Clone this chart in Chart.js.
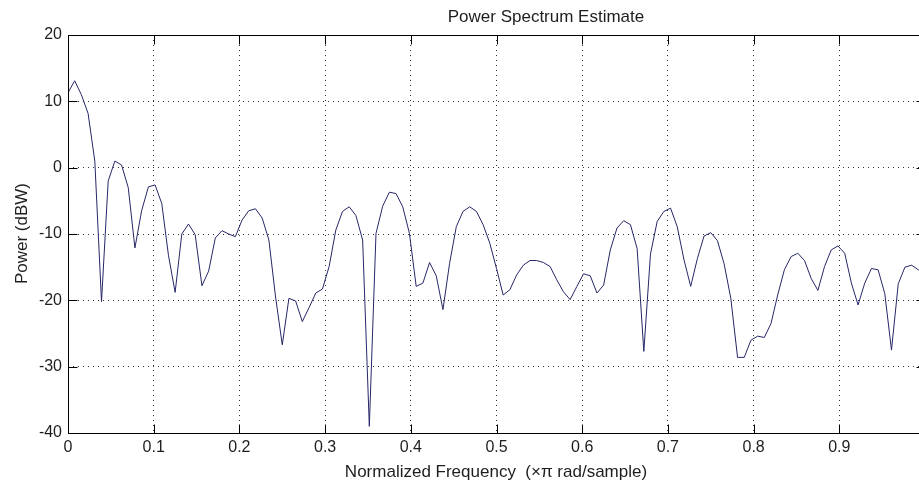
<!DOCTYPE html>
<html>
<head>
<meta charset="utf-8">
<title>Power Spectrum Estimate</title>
<script src="https://cdn.jsdelivr.net/npm/chart.js@4/dist/chart.umd.min.js"></script>
<style>
  html, body { margin: 0; padding: 0; background: #fff; overflow: hidden; }
  #wrap { width: 940px; height: 485px; }
</style>
</head>
<body>
<div id="wrap"><canvas id="psd"></canvas></div>
<script>
// Normalized frequency (x pi rad/sample), 129 bins
var freq = [0, .0078, .0156, .0234, .0313, .0391, .0469, .0547, .0625, .0703, .0781, .0859, .0938, .1016, .1094, .1172,
  .125, .1328, .1406, .1484, .1563, .1641, .1719, .1797, .1875, .1953, .2031, .2109, .2188, .2266, .2344, .2422,
  .25, .2578, .2656, .2734, .2813, .2891, .2969, .3047, .3125, .3203, .3281, .3359, .3438, .3516, .3594, .3672,
  .375, .3828, .3906, .3984, .4063, .4141, .4219, .4297, .4375, .4453, .4531, .4609, .4688, .4766, .4844, .4922,
  .5, .5078, .5156, .5234, .5313, .5391, .5469, .5547, .5625, .5703, .5781, .5859, .5938, .6016, .6094, .6172,
  .625, .6328, .6406, .6484, .6563, .6641, .6719, .6797, .6875, .6953, .7031, .7109, .7188, .7266, .7344, .7422,
  .75, .7578, .7656, .7734, .7813, .7891, .7969, .8047, .8125, .8203, .8281, .8359, .8438, .8516, .8594, .8672,
  .875, .8828, .8906, .8984, .9063, .9141, .9219, .9297, .9375, .9453, .9531, .9609, .9688, .9766, .9844, .9922, 1];

// Power (dBW)
var power = [11.3, 13.1, 11.0, 8.2, 1.0, -20.2, -2.0, 1.0, 0.4, -3.0, -12.1, -6.5, -2.9, -2.6, -5.4, -13.2,
  -18.8, -10.0, -8.5, -10.1, -17.8, -15.6, -10.6, -9.5, -10.0, -10.4, -7.9, -6.5, -6.2, -7.6, -10.9, -19.5,
  -26.7, -19.7, -20.1, -23.2, -21.1, -18.9, -18.3, -14.9, -9.4, -6.6, -5.9, -7.2, -10.9, -39.0, -9.9, -5.8,
  -3.7, -3.9, -5.9, -9.9, -17.9, -17.4, -14.3, -16.3, -21.4, -14.4, -8.9, -6.6, -5.9, -6.6, -8.6, -11.4,
  -15.2, -19.2, -18.4, -16.2, -14.7, -14.0, -14.0, -14.3, -14.9, -16.9, -18.7, -19.9, -17.9, -16.0, -16.3, -18.9,
  -17.7, -12.4, -9.1, -8.0, -8.6, -12.2, -27.7, -13.0, -8.1, -6.6, -6.1, -8.9, -13.9, -17.9, -13.7, -10.3,
  -9.8, -11.0, -14.5, -19.7, -28.6, -28.6, -26.0, -25.4, -25.6, -23.5, -19.2, -15.4, -13.4, -12.9, -14.0, -16.7,
  -18.5, -14.9, -12.4, -11.8, -12.9, -17.4, -20.7, -17.4, -15.2, -15.4, -19.0, -27.5, -17.5, -15.0, -14.7, -15.4, -16.0];

var xTicks = [0, 0.1, 0.2, 0.3, 0.4, 0.5, 0.6, 0.7, 0.8, 0.9, 1];
var yTicks = [-40, -30, -20, -10, 0, 10, 20];

var titleText = 'Power Spectrum Estimate';
var xTitle = 'Normalized Frequency  (\u00d7\u03c0 rad/sample)';
var yTitle = 'Power (dBW)';

var font = "'Liberation Sans', Arial, sans-serif";
var textColor = '#1e1e1e';

// points for the line
var points = freq.map(function (f, i) { return { x: f, y: power[i] }; });

// MATLAB style box, inward ticks and labels
var matlabFrame = {
  id: 'matlabFrame',
  afterDraw: function (chart) {
    var ctx = chart.ctx, a = chart.chartArea;
    var xs = chart.scales.x, ys = chart.scales.y;
    var L = Math.round(a.left) + 0.5, R = Math.round(a.right) + 0.5;
    var T = Math.round(a.top) + 0.5, B = Math.round(a.bottom) + 0.5;
    ctx.save();
    ctx.strokeStyle = '#000';
    ctx.lineWidth = 1;
    ctx.strokeRect(L, T, R - L, B - T);
    ctx.beginPath();
    xTicks.forEach(function (v) {
      var p = Math.round(xs.getPixelForValue(v)) + 0.5;
      ctx.moveTo(p, B); ctx.lineTo(p, B - 9);
      ctx.moveTo(p, T); ctx.lineTo(p, T + 9);
    });
    yTicks.forEach(function (v) {
      var p = Math.round(ys.getPixelForValue(v)) + 0.5;
      ctx.moveTo(L, p); ctx.lineTo(L + 9, p);
      ctx.moveTo(R, p); ctx.lineTo(R - 9, p);
    });
    ctx.stroke();

    ctx.fillStyle = textColor;
    ctx.font = '17px ' + font;
    ctx.textAlign = 'center';
    ctx.textBaseline = 'alphabetic';
    ctx.fillText(titleText, 546, 21.5);
    ctx.fillText(xTitle, 496, 477);
    ctx.translate(26.5, 233.5);
    ctx.rotate(-Math.PI / 2);
    ctx.fillText(yTitle, 0, 0);
    ctx.restore();
  }
};

var ctx = document.getElementById('psd').getContext('2d');
var psdChart = new Chart(ctx, {
  type: 'line',
  data: {
    datasets: [{
      data: points,
      borderColor: '#262668',
      borderWidth: 1,
      pointRadius: 0,
      tension: 0,
      fill: false
    }]
  },
  options: {
    responsive: true,
    maintainAspectRatio: false,
    animation: false,
    layout: { padding: { top: 35, right: 15, left: 0, bottom: 0 } },
    plugins: {
      legend: { display: false },
      tooltip: { enabled: false }
    },
    scales: {
      x: {
        type: 'linear',
        min: 0,
        max: 1,
        afterFit: function (s) { s.height = 52; },
        afterBuildTicks: function (s) { s.ticks = xTicks.map(function (v) { return { value: v }; }); },
        grid: { color: 'rgba(0,0,0,0.8)', lineWidth: 1, drawTicks: false, borderDash: [1, 4] },
        border: { display: false, dash: [1, 4] },
        ticks: {
          padding: 5,
          maxRotation: 0,
          autoSkip: false,
          color: textColor,
          font: { family: font, size: 16 },
          callback: function (v) { return String(+Number(v).toFixed(1)); }
        }
      },
      y: {
        type: 'linear',
        min: -40,
        max: 20,
        afterFit: function (s) { s.width = 68; },
        afterBuildTicks: function (s) { s.ticks = yTicks.map(function (v) { return { value: v }; }); },
        grid: { color: 'rgba(0,0,0,0.8)', lineWidth: 1, drawTicks: false, borderDash: [1, 4] },
        border: { display: false, dash: [1, 4] },
        ticks: {
          padding: 6,
          autoSkip: false,
          color: textColor,
          font: { family: font, size: 16 },
          callback: function (v) { return String(v); }
        }
      }
    }
  },
  plugins: [matlabFrame]
});
</script>
</body>
</html>
